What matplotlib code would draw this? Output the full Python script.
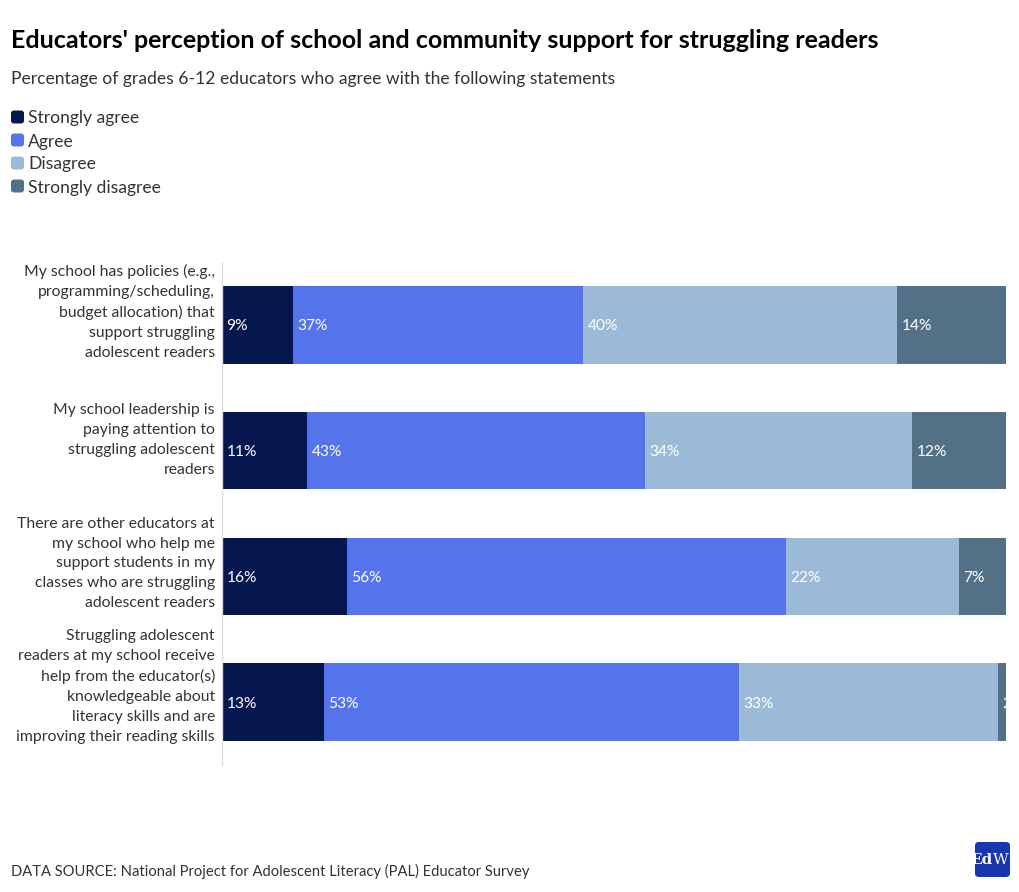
import matplotlib
matplotlib.use("Agg")
import matplotlib.pyplot as plt
from matplotlib.patches import FancyBboxPatch
import matplotlib.transforms as mtransforms

W, H = 1020, 892
FONT = ["Lato", "DejaVu Sans"]
plt.rcParams['font.family'] = FONT

title = "Educators' perception of school and community support for struggling readers"
subtitle = "Percentage of grades 6-12 educators who agree with the following statements"
source = "DATA SOURCE: National Project for Adolescent Literacy (PAL) Educator Survey"

categories = [
    "My school has policies (e.g.,\nprogramming/scheduling,\nbudget allocation) that\nsupport struggling\nadolescent readers",
    "My school leadership is\npaying attention to\nstruggling adolescent\nreaders",
    "There are other educators at\nmy school who help me\nsupport students in my\nclasses who are struggling\nadolescent readers",
    "Struggling adolescent\nreaders at my school receive\nhelp from the educator(s)\nknowledgeable about\nliteracy skills and are\nimproving their reading skills",
]
series_names = ["Strongly agree", "Agree", "Disagree", "Strongly disagree"]
strongly_agree = [9.1, 10.9, 15.9, 13.0]
agree = [37.0, 43.0, 56.0, 52.9]
disagree = [40.0, 34.1, 22.1, 33.1]
strongly_disagree = [13.9, 12.0, 6.0, 1.0]
label_strongly_agree = ["9%", "11%", "16%", "13%"]
label_agree = ["37%", "43%", "56%", "53%"]
label_disagree = ["40%", "34%", "22%", "33%"]
label_strongly_disagree = ["14%", "12%", "7%", "2%"]

colors = ["#06164f", "#5574ec", "#9bbad7", "#527186"]
series = [strongly_agree, agree, disagree, strongly_disagree]
labels = [label_strongly_agree, label_agree, label_disagree, label_strongly_disagree]

def fx(px):
    return px / W

def fy(py):
    return 1 - py / H

fig = plt.figure(figsize=(W / 100, H / 100), dpi=100)
fig.patch.set_facecolor("white")

# axes from x=222..1006, y=262..765
ax = fig.add_axes([fx(222), fy(765), fx(1006) - fx(222), fy(262) - fy(765)])
n = len(categories)
ypos = list(range(n))
left = [0.0] * n
for vals, col, labs in zip(series, colors, labels):
    ax.barh(ypos, vals, left=left, height=0.615, color=col, edgecolor="none")
    for i, (v, l, lab) in enumerate(zip(vals, left, labs)):
        ax.text(l, i, lab, color="white", fontsize=11.2, va="center", ha="left",
                clip_on=True,
                transform=mtransforms.offset_copy(ax.transData, fig=fig, x=4.5, y=-1.5, units="dots"))
    left = [a + b for a, b in zip(left, vals)]

ax.set_xlim(0, 100)
ax.set_ylim(n - 0.5, -0.5)
ax.set_xticks([])
ax.set_yticks([])
for s in ["top", "right", "bottom"]:
    ax.spines[s].set_visible(False)
ax.spines["left"].set_color("#dddddd")
ax.spines["left"].set_linewidth(1)

# category labels
for i, cat in enumerate(categories):
    nl = cat.count("\n") + 1
    tr = mtransforms.offset_copy(ax.transData, fig=fig, x=-7, y=2.6 * nl, units="dots")
    ax.text(0, i, cat, ha="right", va="center", multialignment="right",
            fontsize=11.3, color="#333333", linespacing=1.53, transform=tr)

# title etc.
fig.text(fx(11), fy(40), title, fontsize=18.0, fontweight="bold", color="#000000",
         ha="left", va="center")
fig.text(fx(11), fy(79), subtitle, fontsize=12.65, color="#333333", ha="left", va="center")

# legend
for k, (name, col) in enumerate(zip(series_names, colors)):
    yc = 117 + 23 * k
    box = FancyBboxPatch((fx(11), fy(yc + 6.5)), fx(13), fy(0) - fy(13),
                         boxstyle="round,pad=0,rounding_size=0.003",
                         transform=fig.transFigure, facecolor=col, edgecolor="none")
    fig.patches.append(box)
    fig.text(fx(28), fy(yc + 1.5), name, fontsize=12.6, color="#333333", ha="left", va="center")

# source
fig.text(fx(11), fy(871.5), source, fontsize=10.65, color="#333333", ha="left", va="center")

# logo
logo = FancyBboxPatch((fx(975), fy(877)), fx(35), fy(0) - fy(35),
                      boxstyle="round,pad=0,rounding_size=0.004",
                      transform=fig.transFigure, facecolor="#1637b0", edgecolor="none")
fig.patches.append(logo)
fig.text(fx(992.5), fy(860), "Ed", fontsize=11, color="white", ha="right", va="center",
         family="DejaVu Serif", fontweight="bold")
fig.text(fx(992.5), fy(860), "W", fontsize=11, color="white", ha="left", va="center",
         family="DejaVu Serif")

fig.savefig("out.png", dpi=100, facecolor="white")
